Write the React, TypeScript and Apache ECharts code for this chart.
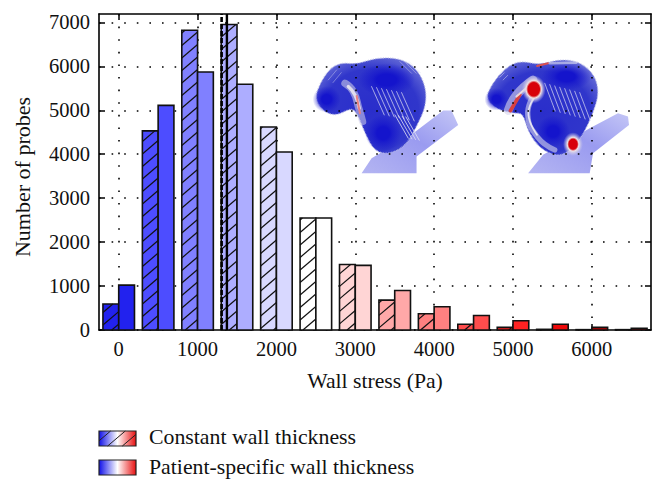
import { useEffect, useRef } from 'react';
import * as echarts from 'echarts';

// histogram bins (Pa), one pair of bars per bin
const bins = [0, 500, 1000, 1500, 2000, 2500, 3000, 3500, 4000, 4500, 5000, 5500, 6000, 6500];
const constantWall = [590, 4530, 6820, 6950, 4620, 2550, 1490, 680, 370, 130, 60, 15, 8, 8];
const patientWall = [1020, 5110, 5870, 5590, 4050, 2550, 1470, 900, 530, 330, 210, 130, 60, 40];
const binColors = [
  '#2222ee', '#4d4dff', '#8080ff', '#adadff', '#d8d8ff', '#ffffff', '#ffd5d5',
  '#ffa8a8', '#ff8080', '#ff4d4d', '#ff2222', '#ee0a0a', '#bb0000', '#880000',
];
const xTicks = [0, 1000, 2000, 3000, 4000, 5000, 6000];
const yTicks = [0, 1000, 2000, 3000, 4000, 5000, 6000, 7000];
const meanConstant = 1305;
const meanPatient = 1372;
const BAR_WIDTH = 200;
const SERIF = '"Liberation Serif", serif';

// rough outlines of the two aneurysm renders, in a 3x coordinate space
const leftBody = [[45, 235], [60, 190], [90, 145], [125, 128], [170, 133], [230, 113], [300, 115], [350, 145], [378, 200], [378, 260], [350, 320], [320, 375], [270, 403], [225, 395], [195, 340], [170, 275], [150, 265], [110, 288], [70, 275]];
const rightBody = [[558, 235], [575, 195], [615, 145], [660, 122], [720, 135], [780, 118], [840, 125], [885, 165], [898, 220], [880, 280], [850, 345], [810, 395], [770, 410], [720, 385], [685, 335], [670, 280], [640, 280], [590, 268]];
const leftVessel = [[185, 460], [215, 415], [240, 400], [340, 340], [430, 272], [455, 272], [475, 315], [350, 410], [350, 460]];
const rightVessel = [[685, 460], [730, 405], [870, 325], [955, 280], [985, 290], [988, 315], [880, 400], [870, 460]];

const poly = (pts: number[][]) => 'M' + pts.map((p) => p.join(' ')).join('L') + 'Z';
const smooth = (pts: number[][]) => {
  const mid = (a: number[], b: number[]) => [(a[0] + b[0]) / 2, (a[1] + b[1]) / 2];
  const start = mid(pts[pts.length - 1], pts[0]);
  let d = `M${start[0]} ${start[1]}`;
  pts.forEach((p, i) => {
    const m = mid(p, pts[(i + 1) % pts.length]);
    d += `Q${p[0]} ${p[1]} ${m[0]} ${m[1]}`;
  });
  return d + 'Z';
};

echarts.graphic.registerShape('leftBody', echarts.graphic.extendPath(smooth(leftBody), {}));
echarts.graphic.registerShape('rightBody', echarts.graphic.extendPath(smooth(rightBody), {}));
echarts.graphic.registerShape('leftVessel', echarts.graphic.extendPath(poly(leftVessel), {}));
echarts.graphic.registerShape('rightVessel', echarts.graphic.extendPath(poly(rightVessel), {}));

// diagonal hatch clipped to a box
const hatchSegments = (x0: number, y0: number, x1: number, y1: number) => {
  const slope = 0.85;
  const step = 12.5;
  const segs: number[][] = [];
  const kMin = Math.floor((y0 + slope * x0) / step);
  const kMax = Math.ceil((y1 + slope * x1) / step);
  for (let k = kMin; k <= kMax; k++) {
    const c = k * step;
    const xa = Math.max(x0, (c - y1) / slope);
    const xb = Math.min(x1, (c - y0) / slope);
    if (xb > xa) segs.push([xa, c - slope * xa, xb, c - slope * xb]);
  }
  return segs;
};

const barSeries = (values: number[], side: number, hatched: boolean) => ({
  type: 'custom',
  xAxisIndex: 0,
  yAxisIndex: 0,
  z: 3,
  data: bins.map((b, i) => [b, values[i], i]),
  encode: { x: 0, y: 1 },
  renderItem: (_: any, api: any) => {
    const bin = api.value(0);
    const a = api.coord([bin, api.value(1)]);
    const b = api.coord([bin + side * BAR_WIDTH, 0]);
    const x0 = Math.min(a[0], b[0]);
    const x1 = Math.max(a[0], b[0]);
    const children: any[] = [
      {
        type: 'rect',
        shape: { x: x0, y: a[1], width: x1 - x0, height: b[1] - a[1] },
        style: { fill: binColors[api.value(2)], stroke: '#111', lineWidth: 1.6 },
      },
    ];
    if (hatched) {
      hatchSegments(x0, a[1], x1, b[1]).forEach((s) =>
        children.push({
          type: 'line',
          shape: { x1: s[0], y1: s[1], x2: s[2], y2: s[3] },
          style: { stroke: '#111', lineWidth: 1.2 },
        })
      );
    }
    return { type: 'group', children };
  },
});

const meanLine = (x: number, type: any, width: number) => ({
  type: 'line',
  xAxisIndex: 0,
  yAxisIndex: 0,
  z: 5,
  symbol: 'none',
  silent: true,
  data: [[x, 0], [x, 7190]],
  lineStyle: { color: '#000', width, type },
});

// parallel pale stripes: the mesh texture on the renders
const stripes = (x: number, y: number, dx: number, dy: number, n: number, sx: number, sy: number, opacity = 0.7) =>
  Array.from({ length: n }, (_, i) => ({
    type: 'line',
    shape: { x1: x + i * sx, y1: y + i * sy, x2: x + dx + i * sx, y2: y + dy + i * sy },
    style: { stroke: '#dcdcf2', lineWidth: 3, opacity, lineCap: 'round', lineDash: [5, 2] },
  }));

const glow = (cx: number, cy: number, rx: number, ry: number, core: string, rim: string, coreStop = 0.5, end = 'rgba(190,190,235,0)') => ({
  type: 'ellipse',
  shape: { cx, cy, rx, ry },
  style: {
    fill: new echarts.graphic.RadialGradient(0.5, 0.5, 0.5, [
      { offset: 0, color: core },
      { offset: coreStop, color: core },
      { offset: coreStop + 0.15, color: rim },
      { offset: 1, color: end },
    ]),
  },
});

const deepBlue = (cx: number, cy: number, rx: number, ry: number) =>
  glow(cx, cy, rx, ry, '#1414cc', 'rgba(20,20,204,0.7)', 0.35, 'rgba(20,20,204,0)');

const curve = (pts: number[][], stroke: string, lineWidth: number, opacity = 1) => ({
  type: 'polyline',
  shape: { points: pts, smooth: 0.5 },
  style: { stroke, lineWidth, opacity, fill: 'none', lineCap: 'round' },
});

const vesselFill = () =>
  new echarts.graphic.LinearGradient(0, 1, 1, 0, [
    { offset: 0, color: '#b4b5f2' },
    { offset: 0.55, color: '#9a9bf0' },
    { offset: 1, color: '#c4c6f6' },
  ]);

const bodyFill = () =>
  new echarts.graphic.RadialGradient(0.5, 0.55, 0.62, [
    { offset: 0, color: '#2a2ecb' },
    { offset: 0.7, color: '#3036cb' },
    { offset: 1, color: '#6a70d8' },
  ]);

const bodyEdge = { stroke: '#b8bae6', lineWidth: 4, lineDash: [2, 3], opacity: 1 };

const renders = {
  type: 'group',
  x: 300,
  y: 20,
  scaleX: 1 / 3,
  scaleY: 1 / 3,
  z: 8,
  children: [
    { type: 'leftVessel', style: { fill: vesselFill() } },
    { type: 'rightVessel', style: { fill: vesselFill() } },
    { type: 'leftBody', style: { fill: bodyFill(), ...bodyEdge } },
    { type: 'rightBody', style: { fill: bodyFill(), ...bodyEdge } },
    // left render
    deepBlue(80, 238, 42, 40),
    deepBlue(260, 180, 85, 50),
    deepBlue(250, 340, 55, 55),
    ...stripes(215, 200, 38, 85, 7, 15, 3),
    ...stripes(285, 285, 40, 70, 4, 11, 2, 0.85),
    ...stripes(300, 125, 35, 35, 3, 14, 0, 0.4),
    ...stripes(85, 180, 25, -30, 2, 14, 8, 0.4),
    curve([[135, 190], [160, 215], [178, 270], [188, 305]], '#d6d4ea', 22, 0.55),
    curve([[145, 200], [165, 225], [178, 265]], '#f0ecf0', 10, 0.85),
    curve([[170, 228], [180, 280]], '#e88080', 6),
    // right render
    deepBlue(590, 238, 36, 34),
    deepBlue(800, 170, 75, 42),
    deepBlue(760, 335, 50, 48),
    ...stripes(735, 190, 32, 85, 8, 15, 4),
    ...stripes(600, 172, 14, -14, 2, 10, 8, 0.5),
    curve([[625, 272], [650, 225], [700, 180]], '#d8d6ec', 26, 0.6),
    curve([[702, 225], [684, 285], [712, 350], [765, 390]], '#d6d6ec', 16, 0.6),
    curve([[702, 235], [686, 285], [712, 345]], '#f0eef4', 5, 0.9),
    curve([[632, 272], [660, 225]], '#d84040', 11),
    curve([[650, 230], [690, 195]], '#f0e4e4', 6, 0.9),
    glow(702, 208, 36, 42, '#d80008', '#efe0e2', 0.48),
    glow(820, 373, 30, 36, '#d80008', '#ece2e6', 0.42),
    curve([[712, 138], [745, 130]], '#d85050', 6),
    curve([[750, 130], [830, 128]], '#e0e0f0', 8, 0.6),
  ],
};

const legendGradient = () =>
  new echarts.graphic.LinearGradient(0, 0, 1, 0, [
    { offset: 0, color: '#1010e8' },
    { offset: 0.5, color: '#ffffff' },
    { offset: 1, color: '#e81010' },
  ]);

const legendText = (text: string, y: number) => ({
  type: 'text',
  x: 149,
  y,
  style: { text, font: `21.8px ${SERIF}`, fill: '#111', textVerticalAlign: 'middle' },
});

const App = () => {
  const chartRef = useRef<HTMLDivElement>(null);

  useEffect(() => {
    if (!chartRef.current) return;
    const chart = echarts.init(chartRef.current, undefined, { renderer: 'svg' });

    const frameAxis = { show: true, onZero: false, lineStyle: { color: '#000', width: 1.6 } };
    const tick = { show: true, inside: true, length: 6, lineStyle: { color: '#000', width: 1.5 } };
    const dots = { show: true, lineStyle: { color: '#000', width: 1.6, type: [1.6, 11] as any } };
    const label = { fontFamily: SERIF, fontSize: 20.5, color: '#111', formatter: (v: number) => String(v) };

    chart.setOption({
      animation: false,
      backgroundColor: '#fff',
      grid: { left: 99, top: 14, width: 552, height: 316 },
      xAxis: [
        {
          type: 'value',
          min: -250,
          max: 6750,
          interval: 1000,
          name: 'Wall stress (Pa)',
          nameLocation: 'middle',
          nameGap: 40,
          nameTextStyle: { fontFamily: SERIF, fontSize: 21.7, color: '#111' },
          axisLine: frameAxis,
          axisTick: { ...tick, customValues: xTicks },
          axisLabel: { ...label, customValues: xTicks, margin: 8 },
          splitLine: dots,
        },
        {
          type: 'value',
          position: 'top',
          min: -250,
          max: 6750,
          interval: 1000,
          axisLine: frameAxis,
          axisTick: { ...tick, customValues: xTicks },
          axisLabel: { show: false },
          splitLine: { show: false },
        },
      ],
      yAxis: [
        {
          type: 'value',
          min: 0,
          max: 7190,
          interval: 1000,
          name: 'Number of probes',
          nameLocation: 'middle',
          nameGap: 66,
          nameTextStyle: { fontFamily: SERIF, fontSize: 22, color: '#111', padding: [0, 10, 0, 0] },
          axisLine: frameAxis,
          axisTick: { ...tick, customValues: yTicks },
          axisLabel: { ...label, customValues: yTicks, margin: 9 },
          splitLine: dots,
        },
        {
          type: 'value',
          position: 'right',
          min: 0,
          max: 7190,
          interval: 1000,
          axisLine: frameAxis,
          axisTick: { ...tick, customValues: yTicks },
          axisLabel: { show: false },
          splitLine: { show: false },
        },
      ],
      series: [
        barSeries(constantWall, -1, true),
        barSeries(patientWall, 1, false),
        meanLine(meanConstant, [5, 2], 2.6),
        meanLine(meanPatient, 'solid', 2.4),
      ],
      graphic: [
        renders,
        {
          type: 'group',
          z: 8,
          children: [
            {
              type: 'rect',
              shape: { x: 99, y: 431, width: 37, height: 15 },
              style: { fill: legendGradient(), stroke: '#222', lineWidth: 1.2 },
            },
            ...hatchSegments(99, 431, 136, 446).map((s) => ({
              type: 'line',
              shape: { x1: s[0], y1: s[1], x2: s[2], y2: s[3] },
              style: { stroke: '#222', lineWidth: 1 },
            })),
            {
              type: 'rect',
              shape: { x: 99, y: 460, width: 37, height: 15 },
              style: { fill: legendGradient(), stroke: '#222', lineWidth: 1.2 },
            },
            legendText('Constant wall thickness', 437),
            legendText('Patient-specific wall thickness', 467),
          ],
        },
      ],
    });

    return () => chart.dispose();
  }, []);

  return <div ref={chartRef} style={{ position: 'fixed', left: 0, top: 0, width: 665, height: 492 }} />;
};

export default App;
